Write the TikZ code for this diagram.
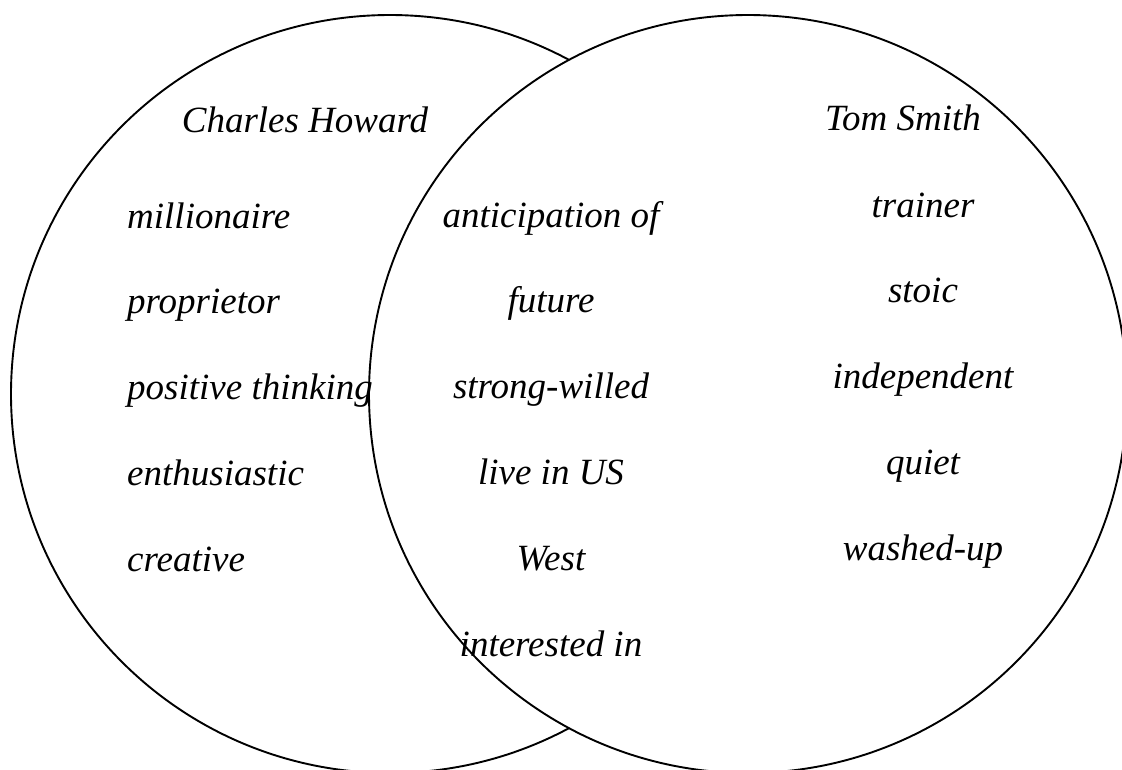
\documentclass[tikz,border=0pt]{standalone}
\usepackage{fontspec}
\setmainfont{Liberation Serif}
\usetikzlibrary{positioning}

\begin{document}
\begin{tikzpicture}[
      x=1pt, y=-1pt,
      setcircle/.style={circle, draw=black, fill=white, line width=1.9pt,
          minimum size=758pt, inner sep=0pt},
      trait/.style={font=\fontsize{37}{44}\selectfont\itshape,
          text height=26pt, text depth=9pt, inner sep=0pt}
  ]
  \useasboundingbox (0,0) rectangle (1122,769);
  \clip (0,0) rectangle (1122,769);
  % the two sets (right one drawn over the left one)
  \node[setcircle] (howardset) at (390,394) {};
  \node[setcircle] (smithset)  at (748,394) {};
  % Charles Howard only
  \node[trait, anchor=base] (howard) at (305,132) {Charles Howard};
  \node[trait, anchor=base west] (mill) at (127,228) {millionaire};
  \node[trait, below=50.5pt of mill.south west, anchor=north west] (prop) {proprietor};
  \node[trait, below=50.5pt of prop.south west, anchor=north west] (posit) {positive thinking};
  \node[trait, below=50.5pt of posit.south west, anchor=north west] (enth) {enthusiastic};
  \node[trait, below=50.5pt of enth.south west, anchor=north west] (creat) {creative};
  % both
  \node[trait, anchor=base] (antic) at (551,227) {anticipation of};
  \node[trait, below=50.5pt of antic] (fut) {future};
  \node[trait, below=50.5pt of fut] (strong) {strong-willed};
  \node[trait, below=50.5pt of strong] (live) {live in US};
  \node[trait, below=50.5pt of live] (west) {West};
  \node[trait, below=50.5pt of west] (inter) {interested in};
  % Tom Smith only
  \node[trait, anchor=base] (smith) at (903,130) {Tom Smith};
  \node[trait, anchor=base] (train) at (923,217) {trainer};
  \node[trait, below=50.5pt of train] (stoic) {stoic};
  \node[trait, below=50.5pt of stoic] (indep) {independent};
  \node[trait, below=50.5pt of indep] (quiet) {quiet};
  \node[trait, below=50.5pt of quiet] (washed) {washed-up};
\end{tikzpicture}
\end{document}
